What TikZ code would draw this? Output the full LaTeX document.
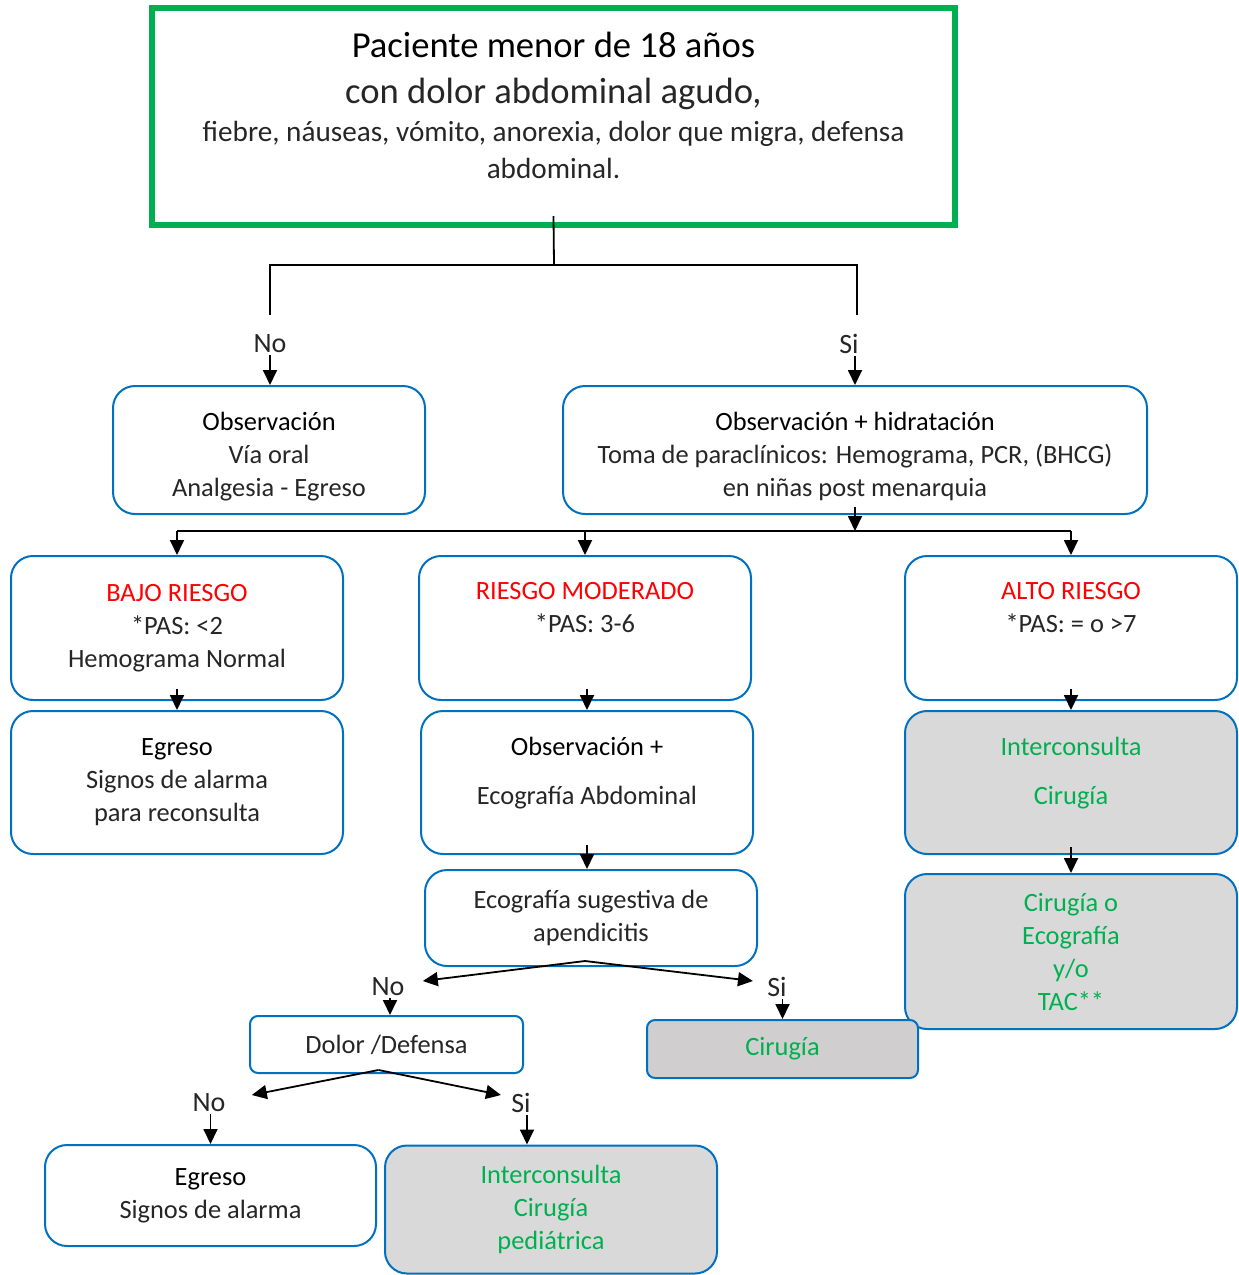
\documentclass[tikz,border=0pt]{standalone}
\usepackage{fontspec}
\setmainfont{Carlito}
\usepackage{xcolor}
\usetikzlibrary{arrows.meta, positioning}

\definecolor{boxblue}{RGB}{0,112,192}
\definecolor{okgreen}{RGB}{0,176,80}
\definecolor{boxgrey}{RGB}{217,217,217}
\definecolor{cutgrey}{RGB}{208,206,206}
\definecolor{riskred}{RGB}{255,0,0}
\definecolor{bodytext}{RGB}{38,38,38}

\begin{document}
\begin{tikzpicture}[
    x=0.5pt, y=-0.5pt, % pixel grid of the reference
    box/.style={rectangle, draw=boxblue, line width=1pt, rounded corners=11pt, fill=white, align=center, inner sep=2pt, minimum width=166pt, text=bodytext, font=\fontsize{13.2}{16.5}\selectfont},
    greybox/.style={box, fill=boxgrey, text=okgreen},
    smallbox/.style={box, rounded corners=4pt},
    lbl/.style={font=\fontsize{14}{16}\selectfont, text=bodytext, inner sep=1pt},
    line/.style={draw, line width=0.9pt, -{Triangle[length=7.5pt,width=7pt]}},
    wire/.style={draw, line width=0.9pt}
    ]
    \useasboundingbox (0,0) rectangle (1238,1275);

    % Entry
    \node [rectangle, draw=okgreen, line width=3pt, minimum width=401.5pt, minimum height=108.5pt, align=center, inner sep=0pt] (patient) at (553.5,116.5)
        {{\fontsize{18.3}{22}\selectfont Paciente menor de 18 años}\\[9pt]
         {\fontsize{18.3}{22}\selectfont\color{bodytext} con dolor abdominal agudo,}\\[5pt]
         {\fontsize{14.6}{17.5}\selectfont\color{bodytext} fiebre, náuseas, vómito, anorexia, dolor que migra, defensa}\\[5pt]
         {\fontsize{14.6}{17.5}\selectfont\color{bodytext} abdominal.}\\[-1pt]};

    % First decision
    \coordinate (split) at (554,265);
    \coordinate (noTop) at (270,315);
    \coordinate (siTop) at (857,315);
    \node [lbl] (noA) at (270,344) {No};
    \node [lbl] (siA) at (849,344) {Si};

    \node [box, minimum width=156pt, minimum height=64pt] (observ) at (269,450)
        {\mbox{}\\[-0.5pt]{\color{black}Observación}\\Vía oral\\Analgesia - Egreso};
    \node [box, minimum width=292pt, minimum height=64pt] (observH) at (855,450)
        {\mbox{}\\[-0.5pt]{\color{black}Observación + hidratación}\\Toma de paraclínicos: Hemograma, PCR, (BHCG)\\en niñas post menarquia};

    % Risk levels
    \coordinate (bus) at (855,531);
    \node [box, minimum height=72pt] (lowRisk) at (177,628)
        {{\color{riskred}BAJO RIESGO}\\*PAS: <2\\Hemograma Normal};
    \node [box, minimum height=72pt] (midRisk) at (585,628)
        {{\color{riskred}RIESGO MODERADO}\\*PAS: 3-6\\[4pt]\mbox{}};
    \node [box, minimum height=72pt] (highRisk) at (1071,628)
        {{\color{riskred}ALTO RIESGO}\\*PAS: = o >7\\[4pt]\mbox{}};

    \node [box, minimum height=71.5pt] (egresoA) at (177,782.5)
        {{\color{black}Egreso}\\Signos de alarma\\para reconsulta};
    \node [box, minimum height=71.5pt] (observEco) at (587,782.5)
        {{\color{black}Observación +}\\[8pt]Ecografía Abdominal\\[-5pt]\mbox{}};
    \node [greybox, minimum height=71.5pt] (interA) at (1071,782.5)
        {Interconsulta\\[8pt]Cirugía\\[-5pt]\mbox{}};

    \node [box, minimum height=48pt] (ecoSug) at (591,918)
        {Ecografía sugestiva de\\apendicitis};
    \node [greybox, minimum height=77.5pt] (cirEco) at (1071,951.5)
        {Cirugía o\\Ecografía\\y/o\\TAC**};

    % Second and third decisions
    \node [lbl] (noB) at (388,987) {No};
    \node [lbl] (siB) at (777,987) {Si};
    \node [smallbox, minimum width=136.5pt, minimum height=28.5pt] (dolor) at (386.5,1044.5) {Dolor /Defensa};
    \node [smallbox, fill=cutgrey, text=okgreen, minimum width=135.5pt, minimum height=29pt] (cirugia) at (782.5,1049) {Cirugía};

    \node [lbl] (noC) at (209,1103) {No};
    \node [lbl] (siC) at (521,1103) {Si};
    \node [box, minimum width=165.5pt, minimum height=50.5pt] (egresoB) at (210.5,1195.5)
        {{\color{black}Egreso}\\Signos de alarma};
    \node [greybox, minimum height=64pt] (interB) at (551,1209.5)
        {Interconsulta\\Cirugía\\pediátrica};

    % Draw edges
    \path [wire] ([yshift=6pt]patient.south) -- (split);
    \path [wire] (noTop) |- (split) -| (siTop);
    \path [line] (noA.south) -- (noA.south |- observ.north);
    \path [line] (observH.north |- siA.south) -- (observH.north);

    \path [line] ([yshift=4pt]observH.south) -- (bus);
    \path [wire] (lowRisk.north |- bus) -- (highRisk.north |- bus);
    \foreach \risk in {lowRisk, midRisk, highRisk}
        \path [line] (\risk.north |- bus) -- (\risk.north);

    \path [line] ([yshift=6pt]lowRisk.south) -- (egresoA.north);
    \path [line] ([yshift=6pt]observEco.north |- midRisk.south) -- (observEco.north);
    \path [line] ([yshift=6pt]highRisk.south) -- (interA.north);
    \path [line] ([yshift=5pt]observEco.south) -- (observEco.south |- ecoSug.north);
    \path [line] ([yshift=4pt]interA.south) -- (cirEco.north);

    \path [line] ([xshift=-3pt,yshift=3pt]ecoSug.south) -- ([xshift=8pt,yshift=3pt]noB.east);
    \path [line] ([xshift=-3pt,yshift=3pt]ecoSug.south) -- ([xshift=-6pt,yshift=3pt]siB.west);
    \path [line] ([xshift=1pt]noB.south) -- ([xshift=1pt]noB.south |- dolor.north);
    \path [line] (cirugia.north |- siB.south) -- (cirugia.north);

    \path [line] ([xshift=-4pt,yshift=2pt]dolor.south) -- ([xshift=12pt,yshift=4pt]noC.east);
    \path [line] ([xshift=-4pt,yshift=2pt]dolor.south) -- ([xshift=-4pt,yshift=4pt]siC.west);
    \path [line] (egresoB.north |- noC.south) -- (egresoB.north);
    \path [line] ([xshift=3pt]siC.south) -- ([xshift=3pt]siC.south |- interB.north);

\end{tikzpicture}
\end{document}
